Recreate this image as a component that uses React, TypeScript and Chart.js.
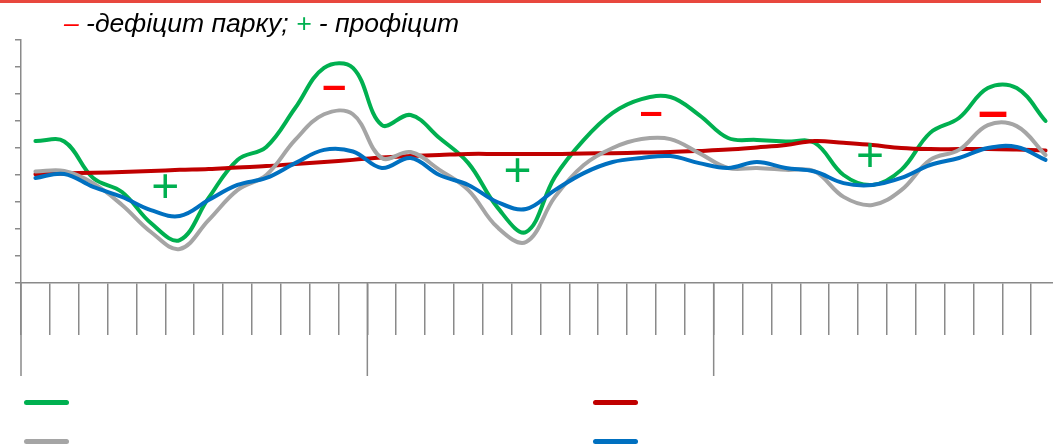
import React, { useEffect, useRef } from 'react';
import { Chart, registerables } from 'chart.js';

Chart.register(...registerables);

// 3 роки по 12 місяців
const years = ['2019', '2020', '2021'];
const months = ['01', '02', '03', '04', '05', '06', '07', '08', '09', '10', '11', '12'];
const labels = years.flatMap((yr) => months.map((m) => `${m}.${yr}`));

const greenValues = [5.26, 5.24, 3.89, 3.37, 2.22, 1.59, 3.15, 4.56, 5.04, 6.48, 7.97, 7.97, 5.85, 6.22, 5.37, 4.44, 2.81, 1.89, 3.93, 5.3, 6.3, 6.81, 6.89, 6.22, 5.37, 5.3, 5.24, 5.19, 4.0, 3.63, 4.19, 5.56, 6.11, 7.22, 7.22, 6.0];
const redValues = [4.03, 4.06, 4.08, 4.11, 4.15, 4.19, 4.22, 4.28, 4.33, 4.41, 4.48, 4.56, 4.65, 4.7, 4.74, 4.78, 4.78, 4.78, 4.78, 4.8, 4.81, 4.83, 4.85, 4.89, 4.94, 5.02, 5.11, 5.26, 5.19, 5.11, 5.0, 4.96, 4.96, 4.96, 4.94, 4.91];
const grayValues = [4.13, 4.15, 3.7, 2.89, 1.89, 1.26, 2.33, 3.44, 4.0, 5.3, 6.25, 6.25, 4.63, 4.85, 4.19, 3.44, 2.07, 1.52, 3.19, 4.37, 5.0, 5.33, 5.33, 4.81, 4.26, 4.26, 4.19, 4.13, 3.19, 2.89, 3.44, 4.56, 4.93, 5.85, 5.81, 4.74];
const blueValues = [3.89, 4.04, 3.56, 3.19, 2.7, 2.48, 3.07, 3.63, 3.89, 4.44, 4.93, 4.87, 4.26, 4.63, 4.0, 3.63, 3.0, 2.74, 3.44, 4.07, 4.48, 4.63, 4.7, 4.44, 4.26, 4.48, 4.26, 4.13, 3.7, 3.63, 3.89, 4.37, 4.63, 5.0, 5.04, 4.56];

// межі років на осі X (індекс категорії)
const yearStarts = [0, 12, 24, 36];

// позначки дефіциту / профіциту: індекс категорії, значення
const signs = [
  { text: '+', index: 4.5, value: 3.49, color: '#00b050', size: 48, bold: false },
  { text: '+', index: 16.7, value: 4.1, color: '#00b050', size: 48, bold: false },
  { text: '+', index: 28.92, value: 4.65, color: '#00b050', size: 48, bold: false },
  { text: '–', index: 10.35, value: 7.26, color: '#ff0000', size: 43, bold: true },
  { text: '–', index: 21.33, value: 6.26, color: '#ff0000', size: 41, bold: true },
  { text: '–', index: 33.18, value: 6.25, color: '#ff0000', size: 54, bold: true },
];

const GREEN = '#00b050';
const RED = '#c00000';
const GRAY = '#a5a5a5';
const BLUE = '#0070c0';
const AXIS = '#8a8a8a';

const extrasPlugin = {
  id: 'extras',
  afterDraw(chart: any) {
    const { ctx, scales } = chart;
    const x = scales.x;
    const y = scales.y;
    ctx.save();
    ctx.strokeStyle = AXIS;
    ctx.lineWidth = 1.5;
    yearStarts.forEach((k) => {
      const px = x.getPixelForValue(k - 0.5);
      ctx.beginPath();
      ctx.moveTo(px, x.top);
      ctx.lineTo(px, x.top + 93);
      ctx.stroke();
    });
    signs.forEach((s) => {
      ctx.fillStyle = s.color;
      ctx.font = `${s.bold ? 'bold ' : ''}${s.size}px "Liberation Sans", Arial, sans-serif`;
      ctx.textAlign = 'center';
      ctx.textBaseline = 'middle';
      ctx.fillText(s.text, x.getPixelForValue(s.index), y.getPixelForValue(s.value));
    });
    ctx.restore();
  },
};

function LineChart() {
  const chartRef: any = useRef(null);

  useEffect(() => {
    const ctx = chartRef.current.getContext('2d');
    const line = (label: string, data: number[], color: string, order: number) => ({
      label,
      data,
      borderColor: color,
      backgroundColor: color,
      borderWidth: 4,
      pointRadius: 0,
      tension: 0.38,
      borderCapStyle: 'round',
      fill: false,
      order,
    });
    const chartInstance = new Chart(ctx, {
      type: 'line',
      data: {
        labels,
        datasets: [
          line('Ряд 1', greenValues, GREEN, 4),
          line('Ряд 2', redValues, RED, 3),
          line('Ряд 3', grayValues, GRAY, 2),
          line('Ряд 4', blueValues, BLUE, 1),
        ],
      },
      options: {
        responsive: false,
        animation: false,
        layout: { padding: { left: 15, top: 40, right: 20, bottom: 45 } },
        plugins: { legend: { display: false }, tooltip: { enabled: false } },
        scales: {
          x: {
            type: 'category',
            offset: true,
            grid: { offset: true, drawOnChartArea: false, tickLength: 52, color: AXIS, lineWidth: 1.5 },
            border: { color: AXIS, width: 1.5 },
            ticks: { display: false },
          },
          y: {
            min: 0,
            max: 9,
            ticks: { display: false, stepSize: 1 },
            grid: { drawOnChartArea: false, tickLength: 6, color: AXIS, lineWidth: 1.5 },
            border: { color: AXIS, width: 1.5 },
          },
        },
      },
      plugins: [extrasPlugin],
    } as any);

    return () => {
      chartInstance.destroy();
    };
  }, []);

  return <canvas ref={chartRef} width={1080} height={380} style={{ position: 'absolute', left: 0, top: 0, width: 1080, height: 380 }} />;
}

const legendItem = (left: number, top: number, color: string) => (
  <div style={{ position: 'absolute', left, top, width: 45, height: 5, borderRadius: 3, background: color }} />
);

export default function App() {
  return (
    <div style={{ position: 'absolute', left: 0, top: 0, width: 1053, height: 447, overflow: 'hidden', background: '#fff' }}>
      <div style={{ position: 'absolute', left: 0, top: 0, width: 1041, height: 3, background: '#e8473e' }} />
      <LineChart />
      <div
        style={{
          position: 'absolute',
          left: 64,
          top: 10,
          fontFamily: '"Liberation Sans", Arial, sans-serif',
          fontStyle: 'italic',
          fontSize: 26.5,
          lineHeight: '27px',
          whiteSpace: 'nowrap',
          color: '#000',
        }}
      >
        <span style={{ color: '#ff0000' }}>–</span> -дефіцит парку; <span style={{ color: GREEN }}>+</span> - профіцит
      </div>
      {legendItem(24, 400, GREEN)}
      {legendItem(24, 439, GRAY)}
      {legendItem(593, 400, RED)}
      {legendItem(593, 439, BLUE)}
    </div>
  );
}
